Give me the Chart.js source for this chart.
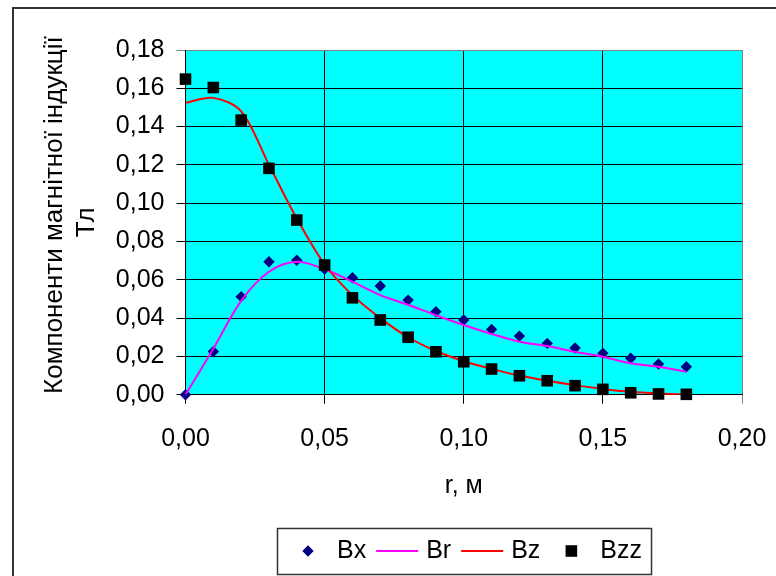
<!DOCTYPE html>
<html>
<head>
<meta charset="utf-8">
<script src="https://cdn.jsdelivr.net/npm/chart.js@4.4.1/dist/chart.umd.min.js"></script>
<style>
  html, body { margin: 0; padding: 0; background: #fff; }
  canvas { display: block; }
</style>
</head>
<body>
<canvas id="chart" width="776" height="576"></canvas>
<script>
// Radius, m
const radii = [0.00, 0.01, 0.02, 0.03, 0.04, 0.05, 0.06, 0.07, 0.08, 0.09,
               0.10, 0.11, 0.12, 0.13, 0.14, 0.15, 0.16, 0.17, 0.18];

// Magnetic induction components, T
const bx  = [0.0000, 0.0225, 0.0512, 0.0694, 0.0702, 0.0656, 0.0611, 0.0568, 0.0494, 0.0433,
             0.0390, 0.0341, 0.0306, 0.0268, 0.0244, 0.0216, 0.0190, 0.0160, 0.0146];
const br  = [0.0000, 0.0240, 0.0490, 0.0642, 0.0694, 0.0655, 0.0590, 0.0520, 0.0470, 0.0415,
             0.0364, 0.0317, 0.0277, 0.0254, 0.0224, 0.0198, 0.0164, 0.0146, 0.0120];
const bz  = [0.1524, 0.1550, 0.1480, 0.1200, 0.0920, 0.0680, 0.0520, 0.0400, 0.0300, 0.0228,
             0.0175, 0.0135, 0.0100, 0.0073, 0.0050, 0.0030, 0.0015, 0.0006, 0.0000];
const bzz = [0.1648, 0.1604, 0.1434, 0.1182, 0.0912, 0.0677, 0.0506, 0.0390, 0.0300, 0.0224,
             0.0172, 0.0134, 0.0099, 0.0073, 0.0047, 0.0028, 0.0010, 0.0004, 0.0002];

// Axis ticks
const xTicks = [0.00, 0.05, 0.10, 0.15, 0.20];
const yTicks = [0.00, 0.02, 0.04, 0.06, 0.08, 0.10, 0.12, 0.14, 0.16, 0.18];

const FONT = '"Liberation Sans", Arial, sans-serif';
const fmt = v => Number(v).toFixed(2).replace('.', ',');
const pts = arr => radii.map((r, i) => ({ x: r, y: arr[i] }));

// White page, outer frame and cyan plot background
const framePlugin = {
  id: 'frame',
  beforeDraw(chart) {
    const { ctx, chartArea: a } = chart;
    ctx.save();
    ctx.fillStyle = '#fff';
    ctx.fillRect(0, 0, chart.width, chart.height);
    ctx.strokeStyle = '#333';
    ctx.lineWidth = 2;
    ctx.beginPath();
    ctx.moveTo(13, chart.height);
    ctx.lineTo(13, 8);
    ctx.lineTo(chart.width, 8);
    ctx.stroke();
    ctx.fillStyle = '#00FFFF';
    ctx.fillRect(a.left, a.top, a.right - a.left, a.bottom - a.top);
    ctx.restore();
  }
};

function drawSymbol(ctx, ds, cx, cy, w) {
  ctx.save();
  if (ds.showLine) {
    ctx.strokeStyle = ds.borderColor;
    ctx.lineWidth = ds.borderWidth;
    ctx.beginPath();
    ctx.moveTo(cx - w / 2, cy);
    ctx.lineTo(cx + w / 2, cy);
    ctx.stroke();
  } else {
    const r = ds.pointRadius;
    ctx.fillStyle = ds.pointBackgroundColor;
    ctx.beginPath();
    if (ds.pointStyle === 'rectRot') {
      ctx.moveTo(cx - r, cy);
      ctx.lineTo(cx, cy - r);
      ctx.lineTo(cx + r, cy);
      ctx.lineTo(cx, cy + r);
      ctx.closePath();
    } else {
      const s = Math.SQRT1_2 * r;
      ctx.rect(cx - s, cy - s, 2 * s, 2 * s);
    }
    ctx.fill();
  }
  ctx.restore();
}

// Boxed legend below the axis title
const boxLegendPlugin = {
  id: 'boxLegend',
  afterDraw(chart) {
    const { ctx, chartArea: a } = chart;
    ctx.save();
    ctx.font = '25px ' + FONT;
    const sym = 42, gapText = 8, gapItem = 10, padL = 10, padR = 9;
    const items = chart.data.datasets.map(ds => ({ ds, w: ctx.measureText(ds.label).width }));
    const total = padL + padR + items.reduce((s, it) => s + sym + gapText + it.w, 0) + gapItem * (items.length - 1);
    const top = 528, h = 46;
    let x = Math.round((a.left + a.right) / 2 - total / 2);
    ctx.strokeStyle = '#333';
    ctx.lineWidth = 1.5;
    ctx.strokeRect(x + 0.5, top + 0.5, total, h);
    const cy = top + h / 2;
    x += padL;
    items.forEach(it => {
      drawSymbol(ctx, it.ds, x + sym / 2, cy, sym);
      ctx.fillStyle = '#000';
      ctx.textBaseline = 'middle';
      ctx.textAlign = 'left';
      ctx.fillText(it.ds.label, x + sym + gapText, cy);
      x += sym + gapText + it.w + gapItem;
    });
    ctx.restore();
  }
};

new Chart(document.getElementById('chart'), {
  type: 'scatter',
  data: {
    datasets: [
      { label: 'Bx', data: pts(bx), showLine: false, pointStyle: 'rectRot', pointRadius: 5.7,
        pointBackgroundColor: '#000080', pointBorderWidth: 0, order: 4, clip: false },
      { label: 'Br', data: pts(br), showLine: true, borderColor: '#FF00FF', borderWidth: 2,
        pointRadius: 0, tension: 0.33, order: 3 },
      { label: 'Bz', data: pts(bz), showLine: true, borderColor: '#FF0000', borderWidth: 2,
        pointRadius: 0, tension: 0.33, order: 2 },
      { label: 'Bzz', data: pts(bzz), showLine: false, pointStyle: 'rect', pointRadius: 8.2,
        pointBackgroundColor: '#000000', pointBorderWidth: 0, order: 1, clip: false }
    ]
  },
  options: {
    responsive: false,
    animation: false,
    devicePixelRatio: 1,
    events: [],
    layout: { padding: { left: 0, top: 50, right: 34, bottom: 70 } },
    plugins: { legend: { display: false }, tooltip: { enabled: false } },
    scales: {
      x: {
        type: 'linear', min: 0, max: 0.2,
        afterBuildTicks: s => { s.ticks = xTicks.map(v => ({ value: v })); },
        afterFit: s => { s.height = 111.3; s.paddingLeft = 0; s.paddingRight = 0; },
        grid: {
          color: c => (c.tick && c.tick.value >= 0.2 - 1e-9) ? '#808080' : '#000',
          lineWidth: 1, tickLength: 9
        },
        border: { color: '#000', width: 1 },
        ticks: { padding: 20, color: '#000', font: { family: FONT, size: 25 },
                 maxRotation: 0, autoSkip: false, callback: v => fmt(v) },
        title: { display: true, text: 'r, м', color: '#000',
                 font: { family: FONT, size: 25, lineHeight: 1 }, padding: { top: 0, bottom: 7 } }
      },
      y: {
        type: 'linear', min: 0, max: 0.18,
        afterBuildTicks: s => { s.ticks = yTicks.map(v => ({ value: v })); },
        afterFit: s => { s.width = 185.5; },
        grid: {
          color: c => (c.tick && c.tick.value >= 0.18 - 1e-9) ? '#808080' : '#000',
          lineWidth: 1, tickLength: 9
        },
        border: { color: '#000', width: 1 },
        ticks: { padding: 12, color: '#000', font: { family: FONT, size: 25 },
                 autoSkip: false, callback: v => fmt(v) },
        title: { display: true, text: ['  Компоненти магнітної індукції', 'Тл'], color: '#000',
                 font: { family: FONT, size: 26, lineHeight: 1.23 }, padding: { top: 38.5, bottom: 0 } }
      }
    }
  },
  plugins: [framePlugin, boxLegendPlugin]
});
</script>
</body>
</html>
